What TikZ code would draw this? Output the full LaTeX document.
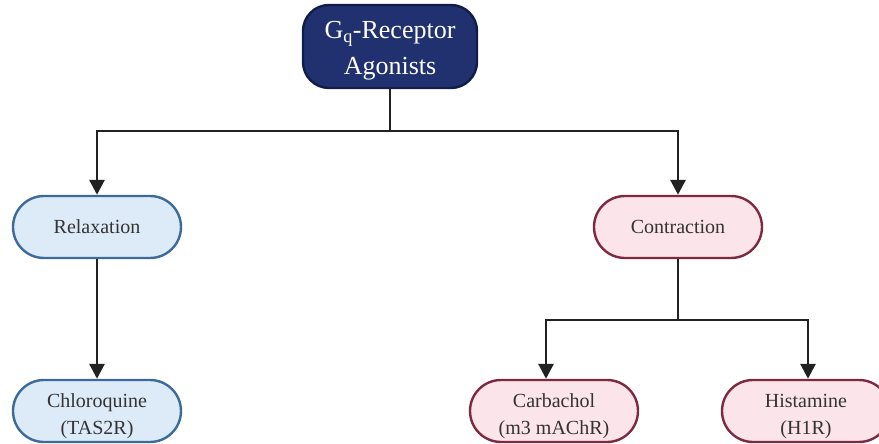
\documentclass[tikz,border=0pt]{standalone}
\usepackage{fontspec}
\setmainfont{Liberation Serif}
\usetikzlibrary{arrows.meta}
\definecolor{navyfill}{HTML}{213170}
\definecolor{navyline}{HTML}{121C48}
\definecolor{bluefill}{HTML}{DDEAF8}
\definecolor{blueline}{HTML}{3D6B99}
\definecolor{pinkfill}{HTML}{FBE4EA}
\definecolor{pinkline}{HTML}{7E2942}
\definecolor{txt}{HTML}{333333}
\definecolor{conn}{HTML}{222222}
\tikzset{
  x=1pt,y=1pt,
  pill/.style={draw,line width=2.4pt,rounded corners=31pt,minimum width=168pt,minimum height=62pt,
    align=center,text=txt,font=\fontsize{20}{27}\selectfont,inner sep=0pt},
  relax/.style={pill,fill=bluefill,draw=blueline},
  contr/.style={pill,fill=pinkfill,draw=pinkline},
  topbox/.style={draw=navyline,fill=navyfill,line width=2.4pt,rounded corners=26pt,minimum width=174pt,
    minimum height=83pt,align=center,text=white,font=\fontsize{26}{36}\selectfont,inner sep=0pt},
  link/.style={draw=conn,line width=2.9pt},
  arr/.style={link,-{Triangle[width=15pt,length=15pt]}}
}
\begin{document}
\begin{tikzpicture}
\useasboundingbox (0,0) rectangle (879,444);
\node[topbox] (top) at (390,397.5) {\rule{0pt}{26pt}G\textsubscript{q}-Receptor\\Agonists};
\node[relax] (rel) at (97,217) {Relaxation};
\node[contr] (con) at (678,217) {Contraction};
\node[relax] (chl) at (97,33) {\rule{0pt}{25pt}Chloroquine\\(TAS2R)};
\node[contr] (car) at (554,33) {\rule{0pt}{25pt}Carbachol\\(m3 mAChR)};
\node[contr] (his) at (806,33) {\rule{0pt}{25pt}Histamine\\(H1R)};
\coordinate (j1) at (390,313);
\coordinate (j2) at (678,124);
\draw[link] (top.south) -- (j1);
\draw[arr] (j1) -| (rel.north);
\draw[arr] (j1) -| (con.north);
\draw[arr] (rel.south) -- (chl.north);
\draw[link] (con.south) -- (j2);
\draw[arr] (j2) -| ([xshift=-8pt]car.north);
\draw[arr] (j2) -| ([xshift=2pt]his.north);
\end{tikzpicture}
\end{document}
